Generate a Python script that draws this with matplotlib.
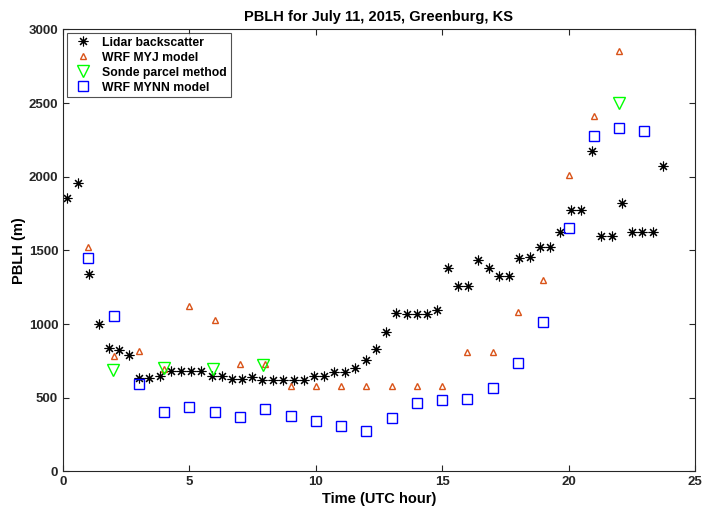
import numpy as np
import matplotlib
matplotlib.use('Agg')
import matplotlib.pyplot as plt

plt.rcParams['font.family'] = ['Liberation Sans', 'DejaVu Sans']
plt.rcParams['font.weight'] = 'bold'

# Lidar backscatter PBLH (m)
lidar_t = [0.17, 0.6, 1.03, 1.42, 1.83, 2.23, 2.62, 3.02, 3.41, 3.83,
           4.26, 4.65, 5.07, 5.47, 5.89, 6.28, 6.68, 7.08, 7.48, 7.89,
           8.31, 8.7, 9.13, 9.53, 9.92, 10.32, 10.74, 11.15, 11.57, 11.98,
           12.38, 12.78, 13.19, 13.6, 13.99, 14.4, 14.81, 15.23, 15.63, 16.02,
           16.43, 16.84, 17.23, 17.64, 18.05, 18.46, 18.87, 19.28, 19.68, 20.09,
           20.5, 20.91, 21.3, 21.7, 22.11, 22.52, 22.92, 23.33, 23.75]
lidar_h = [1858, 1960, 1337, 998, 837, 826, 787, 634, 634, 650,
           679, 679, 679, 679, 645, 645, 627, 627, 640, 618,
           618, 618, 618, 622, 645, 645, 677, 677, 699, 754,
           833, 944, 1075, 1070, 1070, 1070, 1093, 1383, 1258, 1258,
           1432, 1383, 1324, 1324, 1448, 1455, 1523, 1523, 1627, 1772,
           1772, 2175, 1600, 1600, 1824, 1627, 1627, 1627, 2071]

# WRF MYJ model
myj_t = [1, 2, 3, 4, 5, 6, 7, 8, 9, 10, 11, 12, 13, 14, 15, 16, 17, 18, 19, 20, 21, 22]
myj_h = [1523, 783, 817, 697, 1120, 1025, 726, 726, 577, 577, 577, 577, 577, 577, 577,
         808, 808, 1082, 1301, 2014, 2412, 2853]

# Sonde parcel method
sonde_t = [1.98, 3.98, 5.92, 7.92, 22]
sonde_h = [690, 701, 697, 724, 2500]

# WRF MYNN model
mynn_t = [1, 2, 3, 4, 5, 6, 7, 8, 9, 10, 11, 12, 13, 14, 15, 16, 17, 18, 19, 20, 21, 22, 23]
mynn_h = [1448, 1052, 595, 400, 434, 400, 367, 426, 378, 342, 310, 276, 365, 466, 484,
          493, 568, 735, 1014, 1652, 2279, 2329, 2313]

fig = plt.figure(figsize=(7.03, 5.12), dpi=100)
ax = fig.add_axes([0.0896, 0.0795, 0.899, 0.863])

ax.plot(lidar_t, lidar_h, ls='none', marker=(8, 2, 0), color='k', markersize=7,
        markeredgewidth=0.8, label='Lidar backscatter')
ax.plot(myj_t, myj_h, ls='none', marker='^', mfc='none', mec='#D95319', markersize=5,
        markeredgewidth=1.0, label='WRF MYJ model')
ax.plot(sonde_t, sonde_h, ls='none', marker='v', mfc='none', mec='#00FF00', markersize=8,
        markeredgewidth=1.0, label='Sonde parcel method')
ax.plot(mynn_t, mynn_h, ls='none', marker='s', mfc='none', mec='#0000FF', markersize=7,
        markeredgewidth=1.0, label='WRF MYNN model')

ax.set_xlim(0, 25)
ax.set_ylim(0, 3000)
ax.set_xticks(np.arange(0, 26, 5))
ax.set_yticks(np.arange(0, 3001, 500))
ax.tick_params(direction='in', top=True, right=True, length=4, width=0.8,
               colors='#262626', labelsize=9.5, labelcolor='#262626')
for s in ax.spines.values():
    s.set_color('#262626')
    s.set_linewidth(0.8)

ax.set_title('PBLH for July 11, 2015, Greenburg, KS', fontsize=10.5, fontweight='bold', pad=6)
ax.set_xlabel('Time (UTC hour)', fontsize=10.5, fontweight='bold', labelpad=3)
ax.set_ylabel('PBLH (m)', fontsize=10.5, fontweight='bold', labelpad=2)

leg = ax.legend(loc='upper left', fontsize=8.8, frameon=True, fancybox=False,
                edgecolor='#262626', borderaxespad=0.3, handletextpad=0.6,
                labelspacing=0.24, borderpad=0.3, handlelength=2.0)
leg.get_frame().set_linewidth(0.8)
for t in leg.get_texts():
    t.set_fontweight('bold')

fig.savefig('out.png', dpi=100)
